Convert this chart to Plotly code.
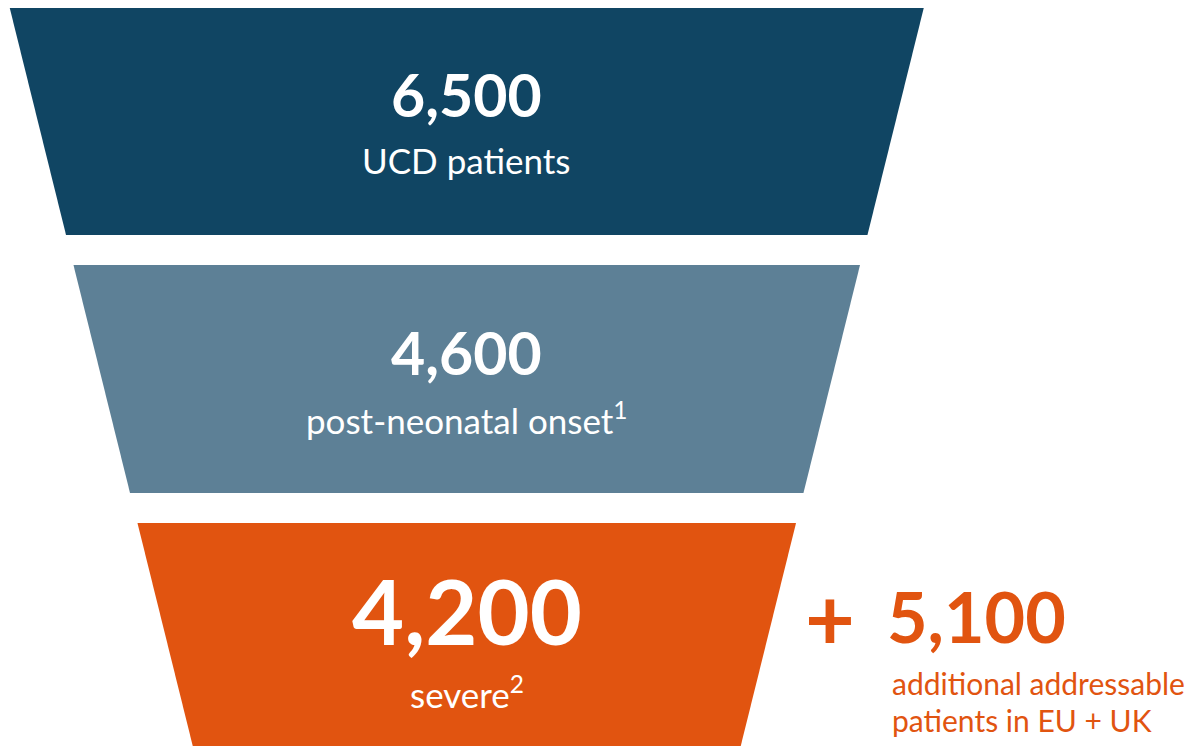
import plotly.graph_objects as go

# ---- data ----
stage_values = [6500, 4600, 4200]
stage_labels = ["UCD patients", "post-neonatal onset<sup>1</sup>", "severe<sup>2</sup>"]
extra_value = 5100
extra_lines = ["additional addressable", "patients in EU + UK"]

# ---- style / layout constants ----
colors = ["#104563", "#5D8096", "#E15410"]
W, H = 1199, 746
OFF = 8  # page body margin compensation
top_y = 7
band_h = 228
gap = 30
left_top_x = 9.5
right_top_x = 924
slope = 0.248
num_sizes = [59, 59, 90]
label_size = 35
font_fam = "Lato, 'Open Sans', sans-serif"

fig = go.Figure()
ann = []
cx = (left_top_x + right_top_x) / 2
for i, v in enumerate(stage_values):
    y0 = top_y + i * (band_h + gap)
    y1 = min(y0 + band_h, H + 10)
    xl0 = left_top_x + slope * (y0 - top_y)
    xl1 = left_top_x + slope * (y1 - top_y)
    xr0 = right_top_x - slope * (y0 - top_y)
    xr1 = right_top_x - slope * (y1 - top_y)
    fig.add_trace(go.Scatter(
        x=[xl0, xr0, xr1, xl1, xl0], y=[y0, y0, y1, y1, y0],
        mode="lines", fill="toself", fillcolor=colors[i],
        line=dict(width=0, color=colors[i]), hoverinfo="skip", showlegend=False))
    big = i == 2
    ny = y0 + 87
    ly = y0 + (169 if big else 153)
    ann.append(dict(x=cx, y=ny, text=f"<b>{v:,}</b>", showarrow=False,
                    xanchor="center", yanchor="middle",
                    font=dict(family=font_fam, size=num_sizes[i], color="white")))
    ann.append(dict(x=cx, y=ly, text=stage_labels[i], showarrow=False,
                    xanchor="center", yanchor="middle",
                    font=dict(family=font_fam, size=label_size, color="white")))

orange = colors[2]
ann.append(dict(x=830, y=616, text="<b>+</b>", showarrow=False, xanchor="center",
                yanchor="middle", font=dict(family=font_fam, size=86, color=orange)))
ann.append(dict(x=885, y=616, text=f"<b>{extra_value:,}</b>", showarrow=False,
                xanchor="left", yanchor="middle",
                font=dict(family=font_fam, size=70, color=orange)))
for j, t in enumerate(extra_lines):
    ann.append(dict(x=890, y=683 + j * 37, text=t, showarrow=False, xanchor="left",
                    yanchor="middle", font=dict(family=font_fam, size=30, color=orange)))

fig.update_layout(
    width=W, height=H, margin=dict(l=0, r=0, t=0, b=0),
    paper_bgcolor="white", plot_bgcolor="white",
    xaxis=dict(range=[OFF, W + OFF], visible=False, fixedrange=True),
    yaxis=dict(range=[H + OFF, OFF], visible=False, fixedrange=True),
    annotations=ann, showlegend=False)

fig.write_html("out.html")
